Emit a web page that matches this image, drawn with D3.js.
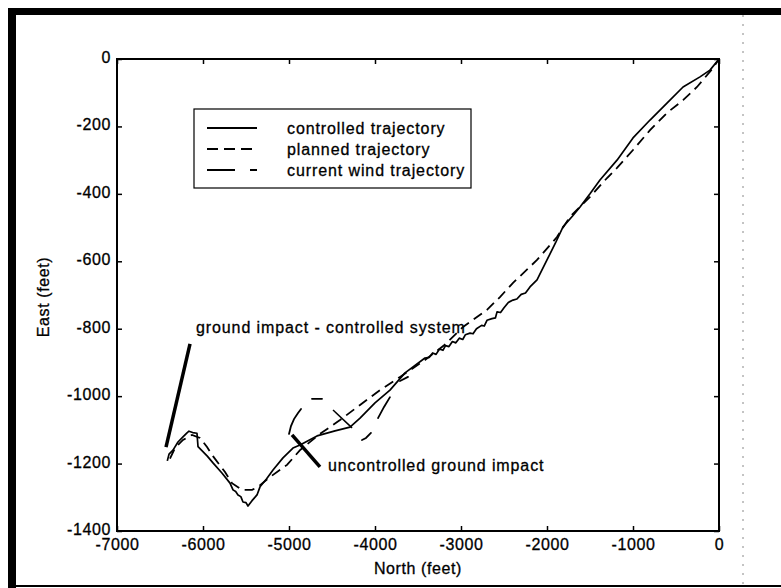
<!DOCTYPE html>
<html>
<head>
<meta charset="utf-8">
<script src="https://cdn.jsdelivr.net/npm/d3@7/dist/d3.min.js"></script>
<style>
  body { margin: 0; background: #fff; }
  svg { display: block; }
  text { font-family: 'Liberation Sans', Arimo, Arial, Helvetica, sans-serif; fill: #000; stroke: #000; stroke-width: 0.3px; }
</style>
</head>
<body>
<svg id="chart"></svg>
<script>
// axis ticks
const xTicks = [-7000, -6000, -5000, -4000, -3000, -2000, -1000, 0];
const yTicks = [0, -200, -400, -600, -800, -1000, -1200, -1400];

// controlled trajectory (North, East) in feet
const controlledNorth = [-6415, -6395, -6349, -6291, -6230, -6186, -6163, -6120, -6070, -6058, -5950, -5884, -5780, -5686, -5651, -5620, -5593, -5560, -5535, -5500, -5477, -5430, -5372, -5337, -5260, -5186, -5070, -4954, -4872, -4674, -4465, -4291, -4174, -4000, -3826, -3651, -3419, -3370, -3330, -3290, -3250, -3210, -3180, -3140, -3100, -3060, -3020, -2980, -2950, -2895, -2860, -2820, -2760, -2730, -2698, -2640, -2600, -2581, -2540, -2500, -2450, -2395, -2350, -2300, -2250, -2198, -2116, -2000, -1900, -1814, -1700, -1616, -1500, -1384, -1186, -1000, -802, -605, -418, -221, -105, 0];
const controlledEast = [-1192, -1172, -1160, -1136, -1120, -1109, -1104, -1108, -1110, -1150, -1178, -1198, -1228, -1258, -1278, -1283, -1293, -1298, -1314, -1316, -1326, -1310, -1293, -1269, -1245, -1219, -1183, -1154, -1145, -1118, -1103, -1092, -1065, -1020, -982, -931, -887, -885, -872, -876, -860, -864, -850, -853, -838, -842, -828, -832, -818, -813, -815, -800, -790, -792, -775, -770, -768, -750, -752, -738, -722, -715, -712, -698, -694, -676, -655, -596, -545, -498, -465, -439, -400, -359, -300, -234, -181, -131, -83, -53, -33, 0];

// planned trajectory
const plannedNorth = [-6384, -6326, -6233, -6128, -6035, -5953, -5884, -5744, -5663, -5547, -5430, -5360, -5221, -5023, -4872, -4640, -4407, -4174, -3942, -3709, -3419, -3200, -2977, -2698, -2547, -2395, -2116, -1884, -1733, -1500, -1302, -1186, -1000, -802, -605, -418, -256, -70, 0];
const plannedEast = [-1185, -1154, -1130, -1115, -1124, -1151, -1178, -1225, -1258, -1278, -1278, -1269, -1240, -1204, -1160, -1112, -1071, -1026, -982, -943, -893, -850, -795, -744, -706, -664, -596, -528, -468, -409, -353, -323, -270, -211, -160, -122, -83, -27, 0];

// current wind trajectory, visible pieces separated by NaN
const windNorth = [-5000, -4977, -4942, -4895, -4860, NaN, -4733, -4616, NaN, -4151, -4105, -4047, NaN, -3965, -3895, -3826, NaN, -3709, -3616];
const windEast = [-1112, -1089, -1068, -1050, -1038, NaN, -1008, -1008, NaN, -1130, -1124, -1109, NaN, -1065, -1032, -1003, NaN, -955, -943];

// annotation marks [north, east]
const controlledImpact = [[-6151, -845], [-6430, -1151]];
const uncontrolledImpact = [[-4965, -1115], [-4640, -1210]];
const smallCross = [[-4488, -1041], [-4267, -1094]];

const legendLabels = ["controlled trajectory", "planned trajectory", "current wind trajectory"];

const W = 781, H = 588;
const svg = d3.select("#chart").attr("width", W).attr("height", H);

const x = d3.scaleLinear().domain([-7000, 0]).range([117, 719]);
const y = d3.scaleLinear().domain([-1400, 0]).range([531, 59]);

// page frame (scanned border)
svg.append("rect").attr("x", 8).attr("y", 8).attr("width", 8).attr("height", H - 8).attr("fill", "#000");
svg.append("rect").attr("x", 8).attr("y", 8).attr("width", W - 8).attr("height", 7).attr("fill", "#000");
svg.append("line").attr("x1", 8).attr("x2", W).attr("y1", 586).attr("y2", 586)
  .attr("stroke", "#000").attr("stroke-width", 2);
svg.append("line").attr("x1", 743).attr("x2", 743).attr("y1", 15).attr("y2", 585)
  .attr("stroke", "#888").attr("stroke-width", 1).attr("stroke-dasharray", "2,7");

const fontSize = 16, spacing = "0.9px";
const fmt = d => String(d);

// axes
svg.append("g").attr("transform", "translate(0,531)")
  .call(d3.axisBottom(x).tickValues(xTicks).tickFormat(fmt).tickSizeInner(-5).tickSizeOuter(0).tickPadding(8));
const gy = svg.append("g").attr("transform", "translate(117,0)")
  .call(d3.axisLeft(y).tickValues(yTicks).tickFormat(fmt).tickSizeInner(-5).tickSizeOuter(0).tickPadding(6));
svg.append("g").attr("transform", "translate(0,59)")
  .call(d3.axisTop(x).tickValues(xTicks).tickSizeInner(-5).tickSizeOuter(0).tickFormat(""));
svg.append("g").attr("transform", "translate(719,0)")
  .call(d3.axisRight(y).tickValues(yTicks).tickSizeInner(-5).tickSizeOuter(0).tickFormat(""));

svg.selectAll(".domain").remove();
svg.selectAll("g").attr("font-family", null);
svg.selectAll(".tick line").attr("stroke", "#000").attr("stroke-width", 1.5);
svg.selectAll(".tick text").attr("font-size", fontSize).style("letter-spacing", "0.6px");
gy.selectAll(".tick text").attr("dy", "0.22em");

svg.append("rect").attr("x", x(-7000)).attr("y", y(0))
  .attr("width", x(0) - x(-7000)).attr("height", y(-1400) - y(0))
  .attr("fill", "none").attr("stroke", "#000").attr("stroke-width", 2);

// axis titles
svg.append("text").attr("x", 418).attr("y", 574).attr("text-anchor", "middle")
  .attr("font-size", fontSize).style("letter-spacing", "0.6px").text("North (feet)");
svg.append("text").attr("transform", "translate(49,297) rotate(-90)").attr("text-anchor", "middle")
  .attr("font-size", fontSize).style("letter-spacing", "0.6px").text("East (feet)");

// trajectories
const line = d3.line()
  .defined(d => !isNaN(d[0]))
  .x(d => x(d[0])).y(d => y(d[1]));

const controlled = controlledNorth.map((n, i) => [n, controlledEast[i]]);
const planned = plannedNorth.map((n, i) => [n, plannedEast[i]]);
const wind = windNorth.map((n, i) => [n, windEast[i]]);

svg.append("path").datum(planned).attr("d", line)
  .attr("fill", "none").attr("stroke", "#000").attr("stroke-width", 1.8)
  .attr("stroke-dasharray", "10,6");
svg.append("path").datum(controlled).attr("d", line)
  .attr("fill", "none").attr("stroke", "#000").attr("stroke-width", 1.7)
  .attr("stroke-linejoin", "round");
svg.append("path").datum(wind).attr("d", line)
  .attr("fill", "none").attr("stroke", "#000").attr("stroke-width", 1.8)
  .attr("stroke-linecap", "round");

// impact marks
svg.append("path").datum(controlledImpact).attr("d", line)
  .attr("stroke", "#000").attr("stroke-width", 3.5);
svg.append("path").datum(uncontrolledImpact).attr("d", line)
  .attr("stroke", "#000").attr("stroke-width", 3.5);
svg.append("path").datum(smallCross).attr("d", line)
  .attr("stroke", "#000").attr("stroke-width", 1.5);

svg.append("text").attr("x", 196).attr("y", 333)
  .attr("font-size", fontSize).style("letter-spacing", spacing)
  .text("ground impact - controlled system");
svg.append("text").attr("x", 328).attr("y", 471)
  .attr("font-size", fontSize).style("letter-spacing", spacing)
  .text("uncontrolled ground impact");

// legend
const legend = svg.append("g");
legend.append("rect").attr("x", 194).attr("y", 109).attr("width", 277).attr("height", 79)
  .attr("fill", "#fff").attr("stroke", "#000").attr("stroke-width", 1.2);
const legendDash = [null, "11,6", "28,15,7,15"];
legendLabels.forEach((label, i) => {
  const ly = 128 + i * 21;
  legend.append("line").attr("x1", 207).attr("x2", 257).attr("y1", ly).attr("y2", ly)
    .attr("stroke", "#000").attr("stroke-width", 1.8)
    .attr("stroke-dasharray", legendDash[i]);
  legend.append("text").attr("x", 287).attr("y", ly).attr("dy", "0.35em")
    .attr("font-size", fontSize).style("letter-spacing", spacing).text(label);
});
</script>
</body>
</html>
